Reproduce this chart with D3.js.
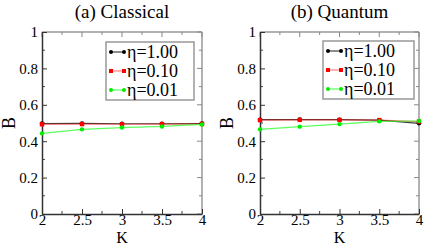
<!DOCTYPE html>
<html><head><meta charset="utf-8">
<script src="https://cdn.jsdelivr.net/npm/d3@7"></script>
<style>body{margin:0;background:#fff}svg{display:block}
text{font-family:"Liberation Serif","DejaVu Serif",serif}</style>
</head><body>
<script>
const kValues = [2, 2.5, 3, 3.5, 4];
const classicalEta100 = [0.497, 0.498, 0.496, 0.496, 0.497];
const classicalEta010 = [0.493, 0.494, 0.493, 0.494, 0.495];
const classicalEta001 = [0.443, 0.465, 0.475, 0.481, 0.492];
const quantumEta100 = [0.518, 0.519, 0.518, 0.516, 0.498];
const quantumEta010 = [0.516, 0.517, 0.517, 0.516, 0.508];
const quantumEta001 = [0.465, 0.48, 0.494, 0.509, 0.511];
const xTicks = [2, 2.5, 3, 3.5, 4];
const yTicks = [0, 0.2, 0.4, 0.6, 0.8, 1];
const legendLabels = ["η=1.00", "η=0.10", "η=0.01"];
const titles = ["(a) Classical", "(b) Quantum"];

const W = 425, H = 245;
const svg = d3.select("body").append("svg").attr("width", W).attr("height", H);

const panels = [
  {title: titles[0], x0: 42, x1: 202, series: [classicalEta100, classicalEta010, classicalEta001], legend: [106, 42, 88]},
  {title: titles[1], x0: 260, x1: 419, series: [quantumEta100, quantumEta010, quantumEta001], legend: [323, 41, 91]}
];
const styles = [
  {line: "#000", lineOp: 0.75, mark: "#000", shape: "circle"},
  {line: "#ff0000", lineOp: 0.5, mark: "#ff0000", shape: "square"},
  {line: "#33ff33", lineOp: 0.8, mark: "#00ee00", shape: "circle"}
];

panels.forEach(p => {
  const x = d3.scaleLinear().domain([2, 4]).range([p.x0, p.x1]);
  const y = d3.scaleLinear().domain([0, 1]).range([214, 32]);
  const g = svg.append("g");

  g.append("line").attr("x1", p.x0).attr("x2", p.x1).attr("y1", 32).attr("y2", 32).attr("stroke", "#999").attr("stroke-width", 1.5);
  g.append("line").attr("x1", p.x1).attr("x2", p.x1).attr("y1", 32).attr("y2", 214).attr("stroke", "#999").attr("stroke-width", 1.5);

  const xMinor = d3.range(2.25, 4, 0.5);
  const yMinor = d3.range(0.1, 1, 0.2);
  xMinor.forEach(v => {
    g.append("line").attr("x1", x(v)).attr("x2", x(v)).attr("y1", 214).attr("y2", 211).attr("stroke", "#444");
    g.append("line").attr("x1", x(v)).attr("x2", x(v)).attr("y1", 32).attr("y2", 35).attr("stroke", "#888");
  });
  yMinor.forEach(v => {
    g.append("line").attr("x1", p.x0).attr("x2", p.x0 + 3).attr("y1", y(v)).attr("y2", y(v)).attr("stroke", "#444");
    g.append("line").attr("x1", p.x1).attr("x2", p.x1 - 3).attr("y1", y(v)).attr("y2", y(v)).attr("stroke", "#888");
  });
  xTicks.forEach(v => {
    g.append("line").attr("x1", x(v)).attr("x2", x(v)).attr("y1", 32).attr("y2", 37).attr("stroke", "#888");
  });
  yTicks.forEach(v => {
    g.append("line").attr("x1", p.x1).attr("x2", p.x1 - 5).attr("y1", y(v)).attr("y2", y(v)).attr("stroke", "#888");
  });

  const xa = g.append("g").attr("transform", "translate(0,214)")
    .call(d3.axisBottom(x).tickValues(xTicks).tickFormat(d3.format("")).tickSizeInner(-5).tickSizeOuter(0));
  xa.select(".domain").attr("stroke", "#333").attr("stroke-width", 1.5);
  xa.selectAll(".tick line").attr("stroke", "#333");
  xa.selectAll("text").attr("font-size", 15).attr("fill", "#000").attr("y", 11).attr("dy", 0);

  const ya = g.append("g").attr("transform", `translate(${p.x0},0)`)
    .call(d3.axisLeft(y).tickValues(yTicks).tickFormat(d3.format("")).tickSizeInner(-5).tickSizeOuter(0));
  ya.select(".domain").attr("stroke", "#333").attr("stroke-width", 1.5);
  ya.selectAll(".tick line").attr("stroke", "#333");
  ya.selectAll("text").attr("font-size", 15).attr("fill", "#000").attr("x", -4);

  p.series.forEach((s, i) => {
    const st = styles[i];
    const line = d3.line().x((d, j) => x(kValues[j])).y(d => y(d));
    g.append("path").datum(s).attr("d", line).attr("fill", "none")
      .attr("stroke", st.line).attr("stroke-opacity", st.lineOp).attr("stroke-width", 1.2);
    s.forEach((d, j) => {
      if (st.shape === "circle") {
        g.append("circle").attr("cx", x(kValues[j])).attr("cy", y(d)).attr("r", 2.2).attr("fill", st.mark);
      } else {
        g.append("rect").attr("x", x(kValues[j]) - 2.2).attr("y", y(d) - 2.2).attr("width", 4.4).attr("height", 4.4).attr("fill", st.mark);
      }
    });
  });

  svg.append("text").attr("x", (p.x0 + p.x1) / 2).attr("y", 18).attr("text-anchor", "middle")
    .attr("font-size", 19).text(p.title);
  svg.append("text").attr("x", (p.x0 + p.x1) / 2).attr("y", 243).attr("text-anchor", "middle")
    .attr("font-size", 16).text("K");
  svg.append("text").attr("transform", `translate(${p.x0 - 27},123) rotate(-90)`).attr("text-anchor", "middle")
    .attr("font-size", 18).text("B");

  const [lx, ly, lw] = p.legend;
  g.append("rect").attr("x", lx).attr("y", ly).attr("width", lw).attr("height", 58)
    .attr("fill", "#fff").attr("stroke", "#999").attr("stroke-width", 1.5);
  legendLabels.forEach((lab, i) => {
    const st = styles[i];
    const cy = ly + 10 + i * 19;
    g.append("line").attr("x1", lx + 5).attr("x2", lx + 18).attr("y1", cy).attr("y2", cy)
      .attr("stroke", st.line).attr("stroke-opacity", st.lineOp).attr("stroke-width", 1.2);
    [lx + 5, lx + 18].forEach(cx => {
      if (st.shape === "circle") g.append("circle").attr("cx", cx).attr("cy", cy).attr("r", 2).attr("fill", st.mark);
      else g.append("rect").attr("x", cx - 2).attr("y", cy - 2).attr("width", 4).attr("height", 4).attr("fill", st.mark);
    });
    g.append("text").attr("x", lx + 21).attr("y", cy + 6).attr("font-size", 18).text(lab);
  });
});
</script>
</body></html>
